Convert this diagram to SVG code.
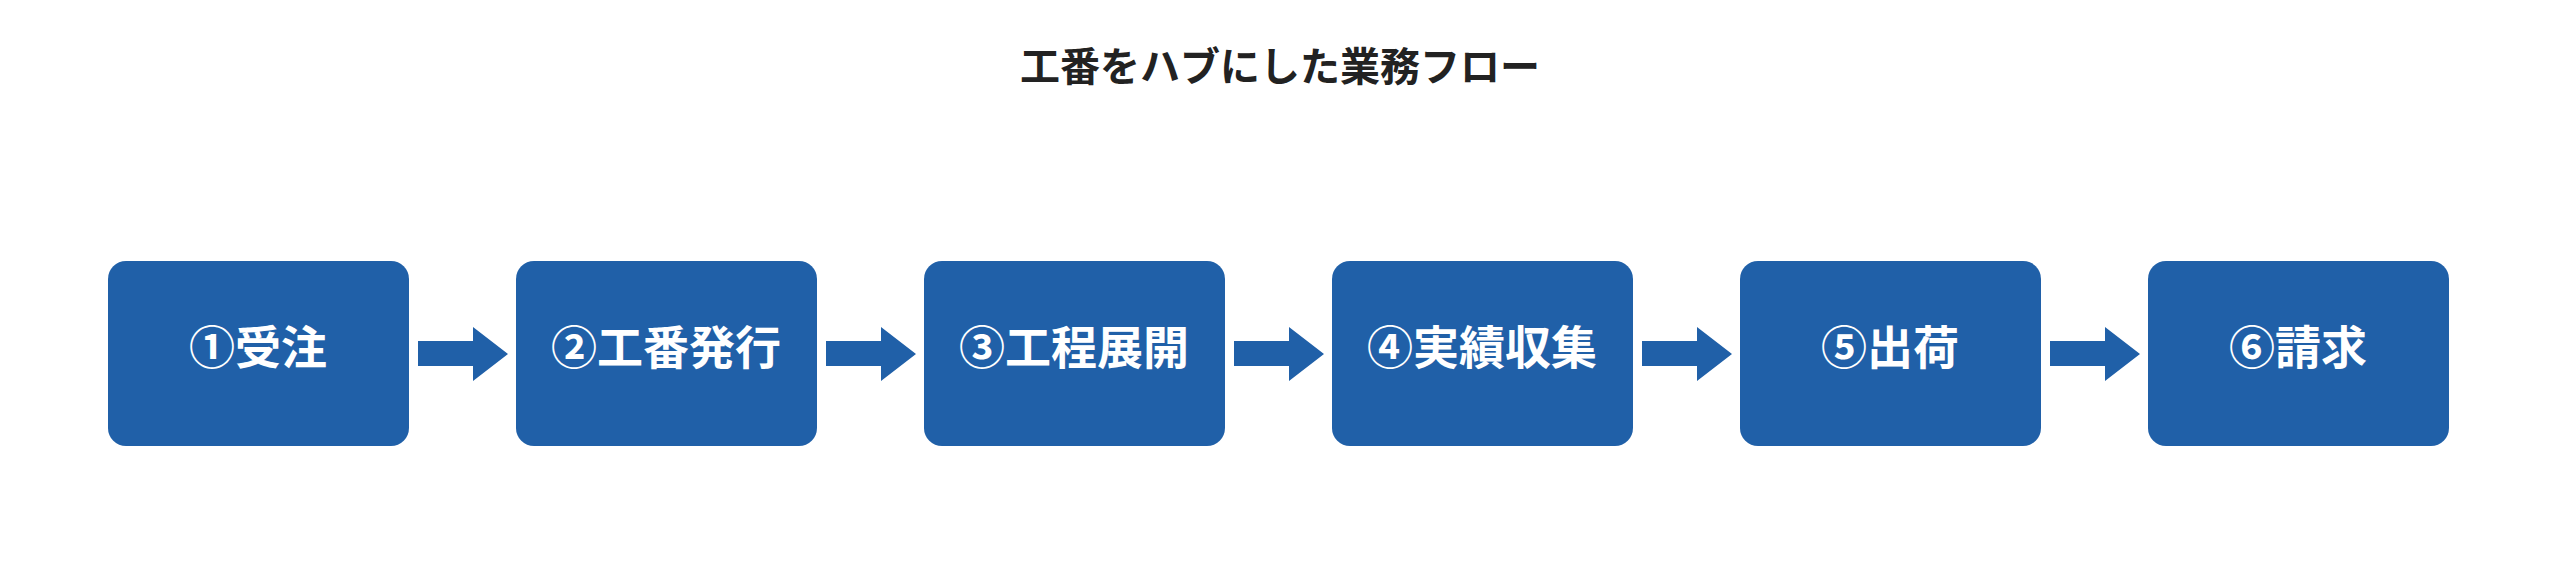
<svg xmlns="http://www.w3.org/2000/svg" width="2560" height="584" viewBox="0 0 2560 584">
<style>
.box{fill:#2060a8}
.lbl{fill:#fff;font-family:"Noto Sans CJK JP","Noto Sans",sans-serif;font-weight:bold;font-size:46px;text-anchor:middle;dominant-baseline:central}
.title{fill:#222;font-family:"Noto Sans CJK JP","Noto Sans",sans-serif;font-weight:bold;font-size:40px;text-anchor:middle;dominant-baseline:central}
.arr{fill:#2060a8}
</style>
<rect width="2560" height="584" fill="#fff"/>
<text class="title" x="1280" y="64">工番をハブにした業務フロー</text>
<g id="n1"><rect class="box" x="108" y="261" width="301" height="185" rx="18"/><text class="lbl" x="258" y="344">①受注</text></g>
<g id="n2"><rect class="box" x="516" y="261" width="301" height="185" rx="18"/><text class="lbl" x="666" y="344">②工番発行</text></g>
<g id="n3"><rect class="box" x="924" y="261" width="301" height="185" rx="18"/><text class="lbl" x="1074" y="344">③工程展開</text></g>
<g id="n4"><rect class="box" x="1332" y="261" width="301" height="185" rx="18"/><text class="lbl" x="1482" y="344">④実績収集</text></g>
<g id="n5"><rect class="box" x="1740" y="261" width="301" height="185" rx="18"/><text class="lbl" x="1890" y="344">⑤出荷</text></g>
<g id="n6"><rect class="box" x="2148" y="261" width="301" height="185" rx="18"/><text class="lbl" x="2298" y="344">⑥請求</text></g>
<g id="connectors">
<path class="arr" d="M418 341H473V327L508 354L473 381V366H418Z"/>
<path class="arr" d="M826 341H881V327L916 354L881 381V366H826Z"/>
<path class="arr" d="M1234 341H1289V327L1324 354L1289 381V366H1234Z"/>
<path class="arr" d="M1642 341H1697V327L1732 354L1697 381V366H1642Z"/>
<path class="arr" d="M2050 341H2105V327L2140 354L2105 381V366H2050Z"/>
</g>
</svg>
